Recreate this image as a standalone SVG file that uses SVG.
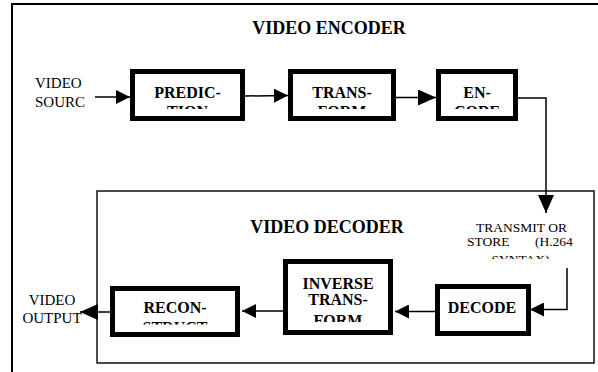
<svg xmlns="http://www.w3.org/2000/svg" width="598" height="372" viewBox="0 0 598 372">
<style>
.frame{fill:none;stroke:#000;stroke-width:2}
.dec{fill:none;stroke:#111;stroke-width:1.5}
.box{fill:#fff;stroke:#000;stroke-width:5}
.ln{fill:none;stroke:#000;stroke-width:1.5}
.t{font-family:"Liberation Serif","Times New Roman",serif;fill:#000}
.title{font-size:18px;font-weight:bold}
.lab{font-size:15px}
.small{font-size:13.5px}
.bt{font-size:16px;font-weight:bold;text-anchor:middle}
</style>
<defs>
<marker id="ah" markerUnits="userSpaceOnUse" markerWidth="14" markerHeight="14" refX="14" refY="7" orient="auto">
<path d="M0,0 L14,7 L0,14 Z" fill="#000"/>
</marker>
<marker id="ahL" markerUnits="userSpaceOnUse" markerWidth="18" markerHeight="16" refX="18" refY="8" orient="auto">
<path d="M0,0 L18,8 L0,16 Z" fill="#000"/>
</marker>
<clipPath id="cEnc"><rect x="120" y="60" width="420" height="49"/></clipPath>
<clipPath id="cRec"><rect x="100" y="280" width="150" height="44.5"/></clipPath>
<clipPath id="cInv"><rect x="280" y="255" width="120" height="67"/></clipPath>
<clipPath id="cTx"><rect x="450" y="215" width="140" height="44"/></clipPath>
</defs>

<g id="frames">
<path class="frame" d="M12,380 V4 H600"/>
<rect class="dec" x="97" y="191" width="497" height="172"/>
</g>

<g id="labels">
<text class="t title" x="329" y="34" text-anchor="middle">VIDEO ENCODER</text>
<text class="t title" x="327" y="233" text-anchor="middle">VIDEO DECODER</text>
<text class="t lab" x="35" y="88">VIDEO</text>
<text class="t lab" x="35" y="107">SOURC</text>
<text class="t lab" x="52" y="305" text-anchor="middle">VIDEO</text>
<text class="t lab" x="52" y="323" text-anchor="middle">OUTPUT</text>
<g clip-path="url(#cTx)">
<text class="t small" x="521.5" y="232" text-anchor="middle">TRANSMIT OR</text>
<text class="t small" y="246"><tspan x="467">STORE</tspan><tspan x="535">(H.264</tspan></text>
<text class="t small" x="520.5" y="264" text-anchor="middle">SYNTAX)</text>
</g>
</g>

<g id="prediction">
<rect class="box" x="132.5" y="71.5" width="110" height="47"/>
<g clip-path="url(#cEnc)"><text class="t bt" x="187.5" y="98">PREDIC-<tspan x="187.5" y="117">TION</tspan></text></g>
</g>
<g id="transform">
<rect class="box" x="290.5" y="71.5" width="103" height="47"/>
<g clip-path="url(#cEnc)"><text class="t bt" x="342" y="98">TRANS-<tspan x="342" y="117">FORM</tspan></text></g>
</g>
<g id="encode">
<rect class="box" x="438.5" y="71.5" width="77" height="47"/>
<g clip-path="url(#cEnc)"><text class="t bt" x="477" y="98">EN-<tspan x="477" y="117">CODE</tspan></text></g>
</g>
<g id="decode">
<rect class="box" x="437.5" y="286.5" width="91" height="47"/>
<text class="t bt" x="482" y="313">DECODE</text>
</g>
<g id="inverse">
<rect class="box" x="285.5" y="261.5" width="105" height="71"/>
<g clip-path="url(#cInv)"><text class="t bt" x="338" y="289">INVERSE<tspan x="338" y="305">TRANS-</tspan><tspan x="338" y="326">FORM</tspan></text></g>
</g>
<g id="reconstruct">
<rect class="box" x="112.5" y="288.5" width="125" height="46"/>
<g clip-path="url(#cRec)"><text class="t bt" x="175" y="313">RECON-<tspan x="175" y="333">STRUCT</tspan></text></g>
</g>

<g id="connectors">
<line class="ln" x1="95" y1="97" x2="130" y2="97" marker-end="url(#ah)"/>
<line class="ln" x1="245" y1="96" x2="288" y2="95.5" marker-end="url(#ah)"/>
<line class="ln" x1="396" y1="97.5" x2="436" y2="97.5" marker-end="url(#ahL)"/>
<polyline class="ln" points="518,98 546,98 546,213" marker-end="url(#ahL)"/>
<polyline class="ln" points="567,268 567,309.5 530,309.5" marker-end="url(#ah)"/>
<line class="ln" x1="435" y1="311.5" x2="395" y2="311.5" marker-end="url(#ah)"/>
<line class="ln" x1="283" y1="311" x2="242" y2="311" marker-end="url(#ah)"/>
<line class="ln" x1="110" y1="312" x2="80" y2="312" marker-end="url(#ahL)"/>
</g>
</svg>
